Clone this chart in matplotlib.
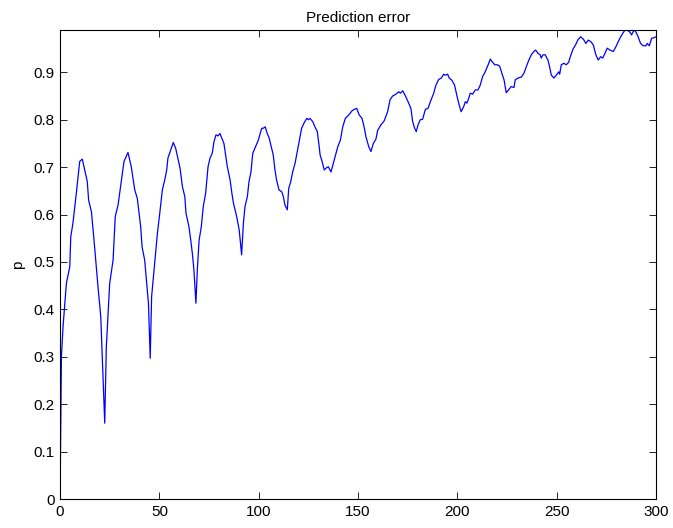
import matplotlib
matplotlib.use('Agg')
import matplotlib.pyplot as plt

# Values
step = [0, 0.7, 1.5, 3.2, 4.9, 5.4, 6.5, 8.2, 9.9, 11.2, 13.7, 14.4, 15.8, 17.4, 19.1, 20.5,
        22.5, 23.3, 25.0, 26.7, 27.8, 29.2, 30.9, 32.2, 34.2, 35.9, 37.6, 38.9, 40.6, 41.3,
        42.6, 43.4, 44.5, 45.4, 46.1, 47.0, 48.2, 49.0, 50.2, 51.5, 52.7, 53.7, 54.3, 55.7,
        57.0, 58.2, 60.4, 61.6, 62.8, 63.4, 64.9, 65.8, 66.6, 67.4, 68.4, 69.1, 70.0, 71.1,
        72.1, 73.3, 74.5, 75.5, 76.6, 77.5, 78.5, 79.5, 80.5, 82.5, 84.2, 85.6, 86.5, 87.3,
        88.9, 90.2, 91.4, 92.3, 93.1, 94.3, 95.1, 96.1, 97.0, 98.1, 99.8, 101.5, 102.3, 103.3,
        104.3, 105.3, 106.5, 107.3, 108.2, 109.0, 110.2, 111.6, 112.4, 113.2, 114.4, 115.1,
        116.1, 117.1, 118.3, 119.4, 120.4, 121.6, 122.8, 124.2, 125.0, 125.8, 127.2, 128.3,
        129.5, 130.4, 130.9, 131.9, 133.0, 133.9, 135.0, 136.4, 138.0, 139.8, 141.1, 142.3,
        143.6, 145.3, 147.0, 148.1, 149.3, 150.6, 152.0, 153.2, 154.0, 155.4, 156.5, 157.7,
        159.0, 159.9, 161.5, 163.2, 164.9, 166.1, 167.4, 169.1, 170.5, 171.3, 172.5, 174.0,
        175.5, 176.6, 177.5, 178.5, 179.3, 180.2, 181.3, 182.5, 183.9, 185.2, 186.4, 188.1,
        189.2, 190.6, 191.9, 193.1, 193.9, 195.1, 195.9, 197.3, 198.6, 199.8, 200.9, 201.9,
        203.2, 204.0, 204.8, 205.7, 206.5, 207.7, 209.0, 210.4, 211.5, 212.7, 214.0, 215.4,
        216.6, 217.4, 218.8, 220.1, 221.3, 222.4, 223.5, 224.6, 225.8, 227.1, 228.5, 229.1,
        230.5, 232.2, 233.5, 234.7, 236.0, 237.2, 238.5, 239.4, 240.6, 241.7, 242.2, 243.1,
        244.2, 245.6, 246.4, 247.3, 248.6, 249.8, 251.0, 251.5, 252.3, 253.6, 254.8, 256.0,
        257.0, 258.2, 259.5, 260.6, 262.0, 263.4, 264.7, 265.9, 267.1, 268.4, 269.7, 270.9,
        272.1, 273.1, 274.3, 275.4, 276.8, 278.5, 279.8, 281.0, 282.2, 283.2, 284.3, 285.5,
        286.8, 287.7, 288.5, 289.4, 290.2, 291.0, 292.2, 293.6, 294.9, 295.6, 296.6, 297.8,
        299.0, 300.0]

p = [0.0, 0.30, 0.363, 0.455, 0.49, 0.553, 0.582, 0.645, 0.712, 0.717, 0.67, 0.63, 0.606,
     0.532, 0.448, 0.385, 0.16, 0.321, 0.455, 0.504, 0.596, 0.62, 0.673, 0.712, 0.731, 0.70,
     0.652, 0.634, 0.574, 0.532, 0.504, 0.465, 0.413, 0.297, 0.427, 0.469, 0.525, 0.56,
     0.603, 0.652, 0.673, 0.694, 0.719, 0.736, 0.752, 0.74, 0.698, 0.659, 0.638, 0.603,
     0.574, 0.546, 0.518, 0.483, 0.413, 0.483, 0.546, 0.574, 0.617, 0.645, 0.701, 0.719,
     0.729, 0.754, 0.768, 0.766, 0.771, 0.75, 0.701, 0.673, 0.645, 0.624, 0.596, 0.567,
     0.515, 0.582, 0.617, 0.638, 0.669, 0.69, 0.729, 0.74, 0.757, 0.782, 0.782, 0.785,
     0.771, 0.761, 0.74, 0.726, 0.694, 0.673, 0.652, 0.648, 0.638, 0.62, 0.61, 0.655,
     0.669, 0.69, 0.708, 0.733, 0.757, 0.782, 0.793, 0.803, 0.80, 0.803, 0.796, 0.785,
     0.775, 0.745, 0.726, 0.712, 0.694, 0.698, 0.701, 0.69, 0.715, 0.743, 0.757, 0.785,
     0.803, 0.81, 0.819, 0.822, 0.824, 0.81, 0.803, 0.782, 0.764, 0.743, 0.733, 0.75,
     0.759, 0.778, 0.789, 0.798, 0.817, 0.842, 0.85, 0.854, 0.859, 0.856, 0.861, 0.849,
     0.835, 0.824, 0.796, 0.782, 0.775, 0.789, 0.80, 0.801, 0.822, 0.824, 0.838, 0.856,
     0.873, 0.885, 0.888, 0.896, 0.894, 0.896, 0.888, 0.883, 0.873, 0.85, 0.831, 0.817,
     0.828, 0.838, 0.835, 0.845, 0.856, 0.854, 0.863, 0.863, 0.873, 0.891, 0.901, 0.915,
     0.928, 0.923, 0.916, 0.916, 0.913, 0.898, 0.884, 0.857, 0.863, 0.87, 0.868, 0.884,
     0.888, 0.89, 0.898, 0.912, 0.926, 0.937, 0.944, 0.947, 0.94, 0.937, 0.93, 0.937,
     0.937, 0.926, 0.912, 0.894, 0.888, 0.894, 0.901, 0.896, 0.916, 0.919, 0.916, 0.921,
     0.935, 0.949, 0.958, 0.968, 0.975, 0.97, 0.961, 0.968, 0.965, 0.958, 0.937, 0.926,
     0.933, 0.93, 0.94, 0.951, 0.947, 0.944, 0.954, 0.965, 0.975, 0.982, 0.989, 0.989,
     0.985, 0.979, 0.986, 0.989, 0.982, 0.975, 0.961, 0.956, 0.956, 0.961, 0.956, 0.972,
     0.973, 0.975]

x_ticks = [0, 50, 100, 150, 200, 250, 300]
y_ticks = [0, 0.1, 0.2, 0.3, 0.4, 0.5, 0.6, 0.7, 0.8, 0.9]
y_labels = ['0', '0.1', '0.2', '0.3', '0.4', '0.5', '0.6', '0.7', '0.8', '0.9']

plt.rcParams['font.family'] = ['Liberation Sans', 'DejaVu Sans']
plt.rcParams['font.size'] = 11

fig = plt.figure(figsize=(6.73, 5.28), dpi=100)
ax = fig.add_axes([0.0892, 0.0549, 0.8856, 0.888])

ax.plot(step, p, color='#0000ff', linewidth=0.9)

ax.set_xlim(0, 300)
ax.set_ylim(0, max(p))
ax.set_xticks(x_ticks)
ax.set_yticks(y_ticks)
ax.set_yticklabels(y_labels)
ax.tick_params(direction='in', top=True, right=True, length=5, width=0.6, pad=4)
for s in ax.spines.values():
    s.set_linewidth(0.8)

ax.set_title('Prediction error', fontsize=11, pad=6)
ax.set_ylabel('p', labelpad=6)

plt.savefig('out.png', dpi=100)
